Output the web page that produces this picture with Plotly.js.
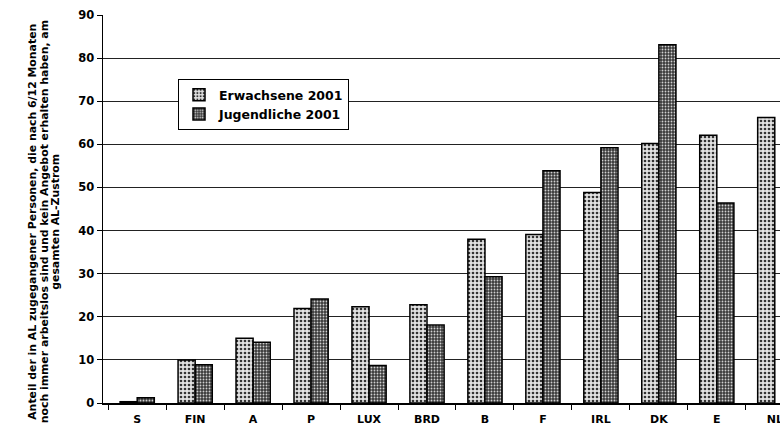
<!DOCTYPE html>
<html>
<head>
<meta charset="utf-8">
<script src="https://cdn.plot.ly/plotly-3.0.1.min.js"></script>
<style>html,body{margin:0;padding:0;background:#fff;}#chart{width:780px;height:429px;}</style>
</head>
<body>
<div id="chart"></div>
<script>
const categories = ["S", "FIN", "A", "P", "LUX", "BRD", "B", "F", "IRL", "DK", "E", "NL"];
const erwachsene2001 = [0.3, 10.0, 15.0, 21.9, 22.3, 22.8, 38.0, 39.1, 48.8, 60.2, 62.1, 66.2];
const jugendliche2001 = [1.2, 8.9, 14.1, 24.1, 8.7, 18.1, 29.3, 53.9, 59.2, 83.1, 46.4, null];
const seriesNames = ["Erwachsene 2001", "Jugendliche 2001"];
const yTickValues = [0, 10, 20, 30, 40, 50, 60, 70, 80, 90];
const yTitleLines = [
  "Anteil der in AL zugegangener Personen, die nach 6/12 Monaten",
  "noch immer arbeitslos sind und kein Angebot erhalten haben, am",
  "gesamten AL-Zustrom"
];

const FONT = "DejaVu Sans, Liberation Sans, Arial, sans-serif";

const traces = [
  {
    type: "bar", name: seriesNames[0], x: categories, y: erwachsene2001,
    marker: {
      color: "#d0d0d0",
      line: {color: "#000", width: 1.5},
      pattern: {shape: ".", bgcolor: "#e2e2e2", fgcolor: "#333", size: 4, solidity: 0.35}
    }
  },
  {
    type: "bar", name: seriesNames[1], x: categories, y: jugendliche2001,
    marker: {
      color: "#555",
      line: {color: "#000", width: 1.5},
      pattern: {shape: ".", bgcolor: "#3a3a3a", fgcolor: "#d0d0d0", size: 3, solidity: 0.3}
    }
  }
];

const annotations = yTitleLines.map((t, i) => ({
  text: t, textangle: -90, showarrow: false,
  xref: "paper", yref: "paper",
  x: (33 + i * 11.5 - 103) / 677, y: 0.467,
  xanchor: "center", yanchor: "middle",
  font: {family: FONT, size: 10.9, color: "#000", weight: "bold"}
}));

const layout = {
  width: 780, height: 429,
  margin: {l: 103, r: 0, t: 15, b: 26, pad: 0},
  paper_bgcolor: "#fff", plot_bgcolor: "#fff",
  barmode: "group", bargap: 0.41, bargroupgap: 0,
  showlegend: true,
  legend: {
    x: (178 - 103) / 677, y: 0.835, xanchor: "left", yanchor: "top",
    bgcolor: "#fff", bordercolor: "#000", borderwidth: 1,
    font: {family: FONT, size: 12.5, color: "#000", weight: "bold"},
    tracegroupgap: 0
  },
  xaxis: {
    type: "category", range: [-0.59, 11.09],
    showgrid: false, showline: true, linecolor: "#000", linewidth: 1.5,
    ticks: "outside", tickson: "boundaries", ticklen: 5, tickcolor: "#000", tickwidth: 1,
    ticklabelstandoff: 5,
    tickfont: {family: FONT, size: 11, color: "#000", weight: "bold"},
    fixedrange: true
  },
  yaxis: {
    range: [0, 90], tickvals: yTickValues, ticktext: yTickValues.map(String),
    showgrid: true, gridcolor: "#222", gridwidth: 1,
    showline: true, linecolor: "#000", linewidth: 1.5,
    ticks: "outside", ticklen: 5, tickcolor: "#000", tickwidth: 1,
    tickfont: {family: FONT, size: 11.5, color: "#000", weight: "bold"},
    zeroline: false, fixedrange: true
  },
  annotations: annotations
};

Plotly.newPlot("chart", traces, layout, {displayModeBar: false, staticPlot: true});
</script>
</body>
</html>
